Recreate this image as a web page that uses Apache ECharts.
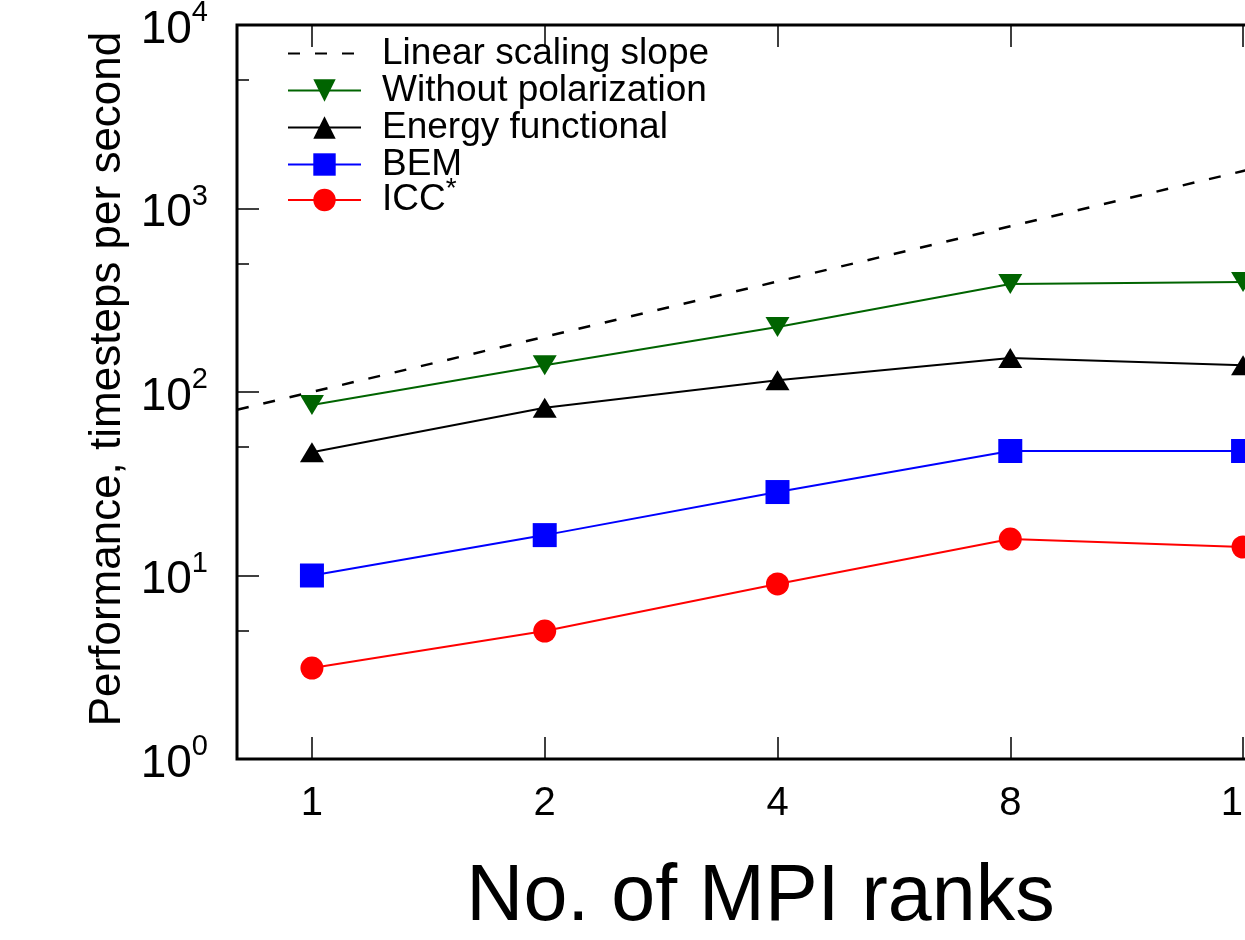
<!DOCTYPE html>
<html>

<head>
	<meta charset="utf-8">
	<title>No. of MPI ranks</title>
	<script src="https://cdn.jsdelivr.net/npm/echarts@6/dist/echarts.min.js"></script>
	<style>
		body { margin: 0; overflow: hidden; background: #fff; }
	</style>
</head>

<body>
	<div id="main" style="width: 1245px;height:940px;"></div>

	<script type="text/javascript">
		// data
		var ranks = [1, 2, 4, 8, 16];
		var slopeRanks = [0.8, 1, 2, 4, 8, 16, 20];
		var slopeValues = [80, 100, 200, 400, 800, 1600, 2000];
		var noPolarization = [85, 140, 226, 388, 398];
		var energyFunctional = [47, 82, 116, 153, 140];
		var bem = [10, 16.6, 28.5, 47.7, 47.7];
		var icc = [3.13, 4.98, 9.0, 15.8, 14.3];
		var xTicks = [1, 2, 4, 8, 16];
		var yMinorTicks = [5, 50, 500, 5000];

		var font = "'Liberation Sans', Arial, Helvetica, sans-serif";

		function pairs(xs, ys) {
			return xs.map(function (x, i) { return [x, ys[i]]; });
		}

		var legendText = {
			fontFamily: font,
			fontSize: 37,
			color: '#000',
			lineHeight: 34,
			padding: [0, 0, 0, 16],
			rich: {
				n: { fontSize: 37, fontFamily: font, color: '#000', lineHeight: 34 },
				sup: { fontSize: 28, fontFamily: font, color: '#000', lineHeight: 4, padding: [0, 0, 22, 0] }
			}
		};

		var myChart = echarts.init(document.getElementById('main'));

		var option = {
			animation: false,
			grid: {
				left: 237,
				top: 25,
				bottom: 181,
				right: -73,
				show: true,
				borderColor: '#000',
				borderWidth: 3,
				outerBoundsMode: 'none'
			},
			// the starred entry sits in its own legend so the raised * doesn't push it down
			legend: [{
				orient: 'vertical',
				left: 282,
				top: 30,
				itemWidth: 73,
				itemHeight: 28,
				itemGap: 0,
				selectedMode: false,
				textStyle: legendText,
				data: [
					{ name: 'Linear scaling slope', itemStyle: { opacity: 0 } },
					'Without polarization',
					'Energy functional',
					'BEM'
				]
			}, {
				orient: 'vertical',
				left: 282,
				top: 170,
				itemWidth: 73,
				itemHeight: 28,
				selectedMode: false,
				textStyle: legendText,
				formatter: function (name) {
					return name === 'ICC*' ? '{n|ICC}{sup|*}' : name;
				},
				data: ['ICC*']
			}],
			xAxis: [{
				type: 'log',
				logBase: 2,
				min: 0.8,
				max: 20,
				name: 'No. of MPI ranks',
				nameLocation: 'middle',
				nameGap: 100,
				nameTextStyle: { fontFamily: font, fontSize: 79, color: '#000', padding: [0, 34, 0, 0] },
				axisLine: { show: false },
				axisTick: { inside: true, length: 22, customValues: xTicks, lineStyle: { color: '#000', width: 1.5 } },
				axisLabel: { customValues: xTicks, margin: 25, fontFamily: font, fontSize: 40, color: '#000' },
				splitLine: { show: false },
				minorTick: { show: false }
			}, {
				type: 'log',
				logBase: 2,
				min: 0.8,
				max: 20,
				position: 'top',
				axisLine: { show: false },
				axisTick: { inside: true, length: 22, customValues: xTicks, lineStyle: { color: '#000', width: 1.5 } },
				axisLabel: { show: false },
				splitLine: { show: false }
			}],
			yAxis: [{
				type: 'log',
				logBase: 10,
				min: 1,
				max: 10000,
				name: 'Performance, timesteps per second',
				nameLocation: 'middle',
				nameGap: 105,
				nameTextStyle: { fontFamily: font, fontSize: 44, color: '#000', padding: [0, 0, 0, 26] },
				axisLine: { show: false },
				axisTick: { inside: true, length: 22, lineStyle: { color: '#000', width: 1.5 } },
				axisLabel: {
					margin: 29,
					formatter: function (v) {
						return '{b|10}{s|' + Math.round(Math.log10(v)) + '}';
					},
					rich: {
						b: { fontFamily: font, fontSize: 46, color: '#000', lineHeight: 44, padding: [10, 0, 0, 0] },
						s: { fontFamily: font, fontSize: 29, color: '#000', lineHeight: 34, padding: [0, 0, 24, 0] }
					}
				},
				splitLine: { show: false }
			}, {
				type: 'log',
				logBase: 10,
				min: 1,
				max: 10000,
				position: 'left',
				axisLine: { show: false },
				axisTick: { inside: true, length: 12, customValues: yMinorTicks, lineStyle: { color: '#000', width: 1.5 } },
				axisLabel: { show: false },
				splitLine: { show: false }
			}],
			series: [{
				name: 'Linear scaling slope',
				type: 'line',
				data: pairs(slopeRanks, slopeValues),
				symbol: 'none',
				color: '#000',
				lineStyle: { color: '#000', width: 2.5, type: [12, 15] }
			}, {
				name: 'Without polarization',
				type: 'line',
				data: pairs(ranks, noPolarization),
				symbol: 'triangle',
				symbolRotate: 180,
				symbolSize: [24, 20],
				color: '#006400',
				lineStyle: { width: 2 }
			}, {
				name: 'Energy functional',
				type: 'line',
				data: pairs(ranks, energyFunctional),
				symbol: 'triangle',
				symbolSize: [24, 20],
				color: '#000',
				lineStyle: { width: 2 }
			}, {
				name: 'BEM',
				type: 'line',
				data: pairs(ranks, bem),
				symbol: 'rect',
				symbolSize: 24,
				color: '#0000ff',
				lineStyle: { width: 2 }
			}, {
				name: 'ICC*',
				type: 'line',
				data: pairs(ranks, icc),
				symbol: 'circle',
				symbolSize: 23,
				color: '#ff0000',
				lineStyle: { width: 2 }
			}]
		};

		myChart.setOption(option);
	</script>
</body>

</html>
